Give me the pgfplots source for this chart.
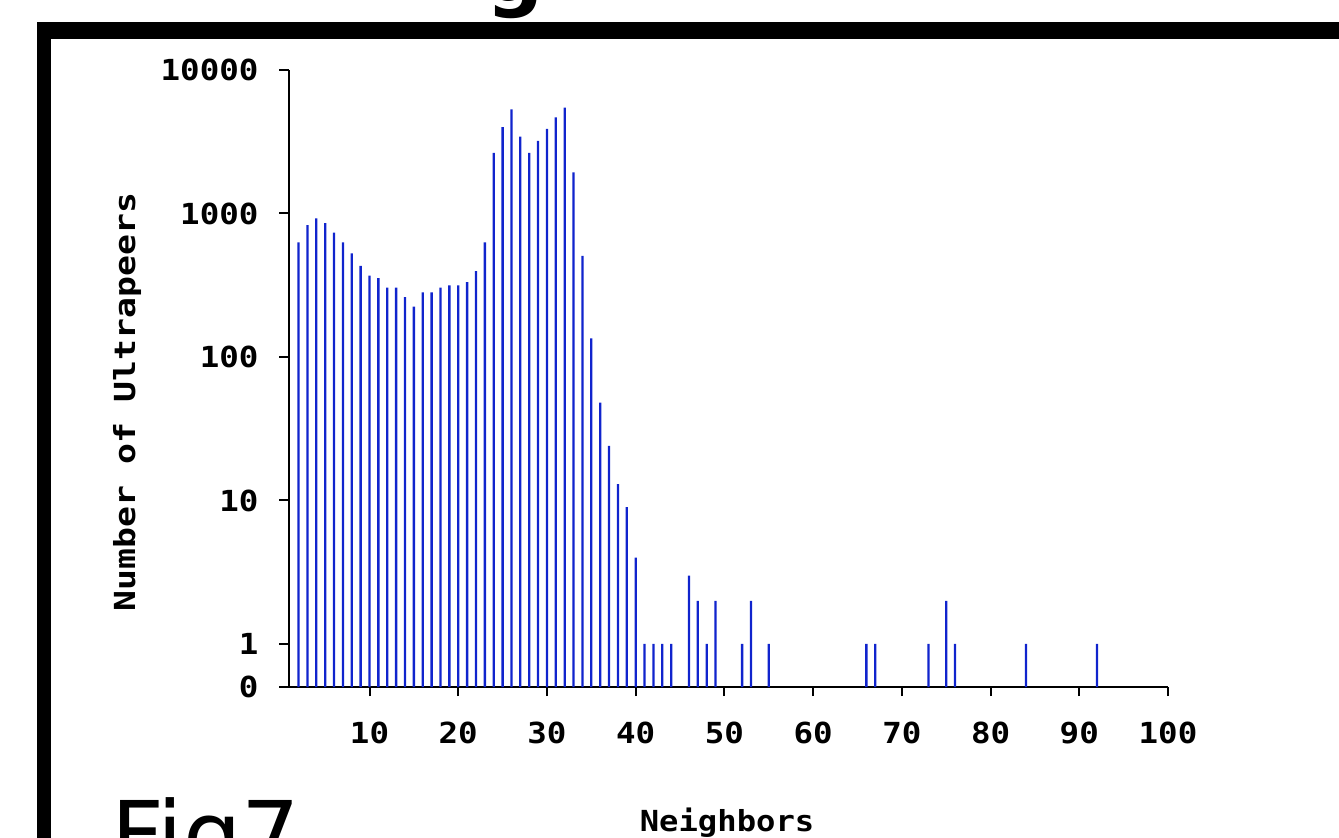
\documentclass[border=0pt]{standalone}
\usepackage{pgfplots}
\pgfplotsset{compat=1.18}
\usepackage{graphicx}
\usepackage{fontspec}
\newfontfamily\monof{DejaVu Sans Mono}
\newfontfamily\sansf{DejaVu Sans}
\definecolor{barblue}{RGB}{16,36,205}
\newcommand\tl[1]{\scalebox{1.12}[1]{\fontsize{14.5}{16}\selectfont\monof\bfseries #1}}
\newcommand\xl[1]{\scalebox{1.11}[1]{\fontsize{14.5}{16}\selectfont\monof\bfseries #1}}
\newcommand\yl[1]{\scalebox{1.2}[1]{\fontsize{14.5}{16}\selectfont\monof\bfseries #1}}
\pgfplotstableread{
x y
2 630
3 830
4 925
5 855
6 735
7 630
8 528
9 431
10 369
11 354
12 304
13 304
14 261
15 224
16 282
17 282
18 304
19 316
20 316
21 332
22 397
23 630
24 2640
25 4005
26 5320
27 3430
28 2640
29 3200
30 3880
31 4680
32 5460
33 1937
34 506
35 135
36 48
37 24
38 13
39 9
40 4
41 1
42 1
43 1
44 1
46 3
47 2
48 1
49 2
52 1
53 2
55 1
66 1
67 1
73 1
75 2
76 1
84 1
92 1
}\counts
\begin{document}
\begin{tikzpicture}
\useasboundingbox (0,0) rectangle (669.5pt,419pt);
\clip (0,0) rectangle (669.5pt,419pt);
% frame bars
\fill[black] (18.5pt,0pt) rectangle (25.5pt,408pt);
\fill[black] (18.5pt,399.5pt) rectangle (669.5pt,408pt);
% big texts partially cut off
\node[anchor=base west, inner sep=0pt, font=\fontsize{46}{46}\selectfont\sansf] at (55.5pt,-15pt) {Fig7};
\node[anchor=base west, inner sep=0pt, font=\fontsize{40}{40}\selectfont\sansf\bfseries] at (243pt,418pt) {g};
\begin{axis}[
  at={(140.4pt,75.4pt)}, anchor=south west,
  scale only axis, width=443.6pt, height=308.6pt,
  xmin=0, xmax=100,
  ymode=log, ymin=0.5, ymax=10000, log origin y=infty,
  axis x line*=bottom, axis y line*=left,
  axis y line shift=-3.85pt,
  axis line style={line width=1pt,-},
  xtick={10,20,...,100},
  xticklabels={\tl{10},\tl{20},\tl{30},\tl{40},\tl{50},\tl{60},\tl{70},\tl{80},\tl{90},\tl{100}},
  ytick={0.5,1,10,100,1000,10000},
  yticklabels={\tl{0},\tl{1},\tl{10},\tl{100},\tl{1000},\tl{10000}},
  yminorticks=false, xminorticks=false,
  tick align=outside, major tick length=4.5pt,
  tick style={black,line width=1pt},
  xticklabel style={yshift=-9.5pt},
  yticklabel style={xshift=-7pt},
  xlabel={\xl{Neighbors}},
  ylabel={\yl{Number of Ultrapeers}},
  xlabel style={at={(axis description cs:0.503,-0.2346)}, anchor=base},
  ylabel style={at={(axis description cs:-0.1643,0.462)}, anchor=base},
  clip=false,
]
\addplot[ybar, bar width=1.15pt, bar shift=0pt, fill=barblue, draw=none] table[x=x,y=y] {\counts};
\end{axis}
\end{tikzpicture}
\end{document}
